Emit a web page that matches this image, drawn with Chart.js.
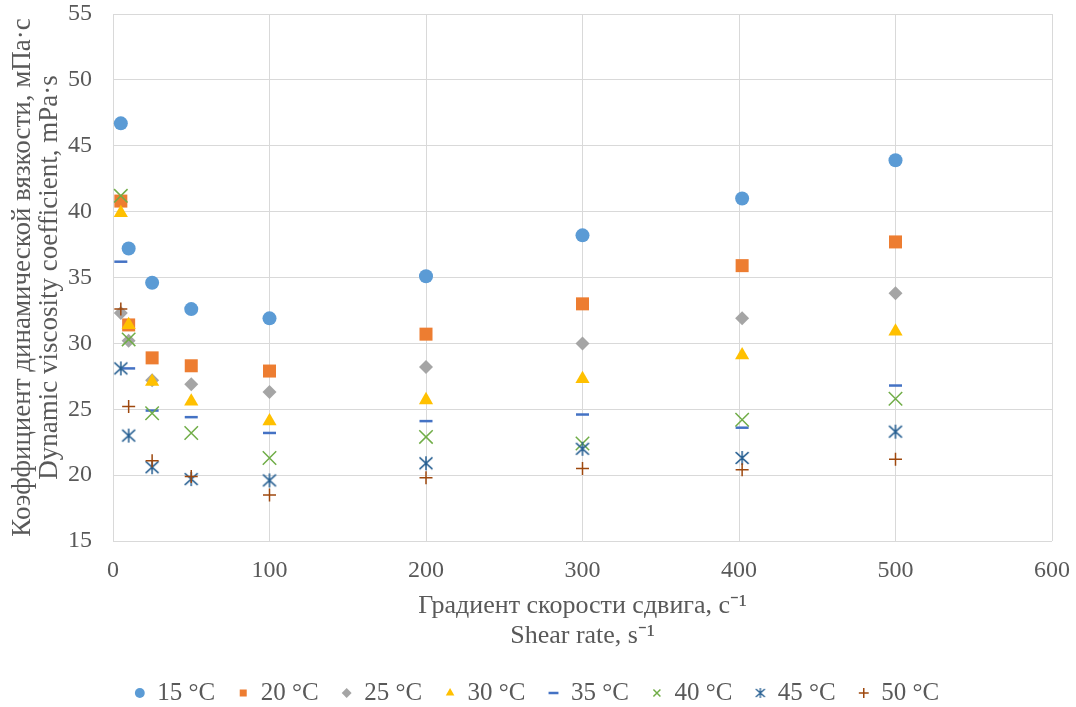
<!DOCTYPE html>
<html><head><meta charset="utf-8">
<script src="https://cdn.jsdelivr.net/npm/chart.js@4"></script>
<style>html,body{margin:0;padding:0;background:#fff}</style>
</head><body>
<canvas id="c" width="1076" height="707"></canvas>
<script>
const shearRates = [5, 10, 25, 50, 100, 200, 300, 402, 500];
const seriesLabels = ['15 °C', '20 °C', '25 °C', '30 °C', '35 °C', '40 °C', '45 °C', '50 °C'];
const visc15 = [46.7, 37.2, 34.6, 32.6, 31.9, 35.1, 38.2, 41.0, 43.9];
const visc20 = [40.8, 31.4, 28.9, 28.3, 27.9, 30.7, 33.0, 35.9, 37.7];
const visc25 = [32.3, 30.2, 27.2, 26.9, 26.3, 28.2, 30.0, 31.9, 33.8];
const visc30 = [39.9, 31.4, 27.1, 25.6, 24.1, 25.7, 27.3, 29.1, 30.9];
const visc35 = [36.2, 28.1, 24.9, 24.4, 23.2, 24.1, 24.6, 23.6, 26.8];
const visc40 = [41.2, 30.3, 24.7, 23.2, 21.3, 22.9, 22.4, 24.2, 25.8];
const visc45 = [28.1, 23.0, 20.6, 19.7, 19.6, 20.9, 22.0, 21.3, 23.3];
const visc50 = [32.6, 25.2, 21.1, 19.9, 18.5, 19.8, 20.5, 20.4, 21.2];
const xTitle = ['Градиент скорости сдвига, с⁻¹', 'Shear rate, s⁻¹'];
const yTitle = ['Коэффициент динамической вязкости, мПа·с', 'Dynamic viscosity coefficient, mPa·s'];

const FONT = "'Liberation Serif', 'Times New Roman', serif";
const TXT = '#595959';

function asterisk(color, size, lw) {
  const c = document.createElement('canvas');
  c.width = size; c.height = size;
  const g = c.getContext('2d');
  const m = size / 2, a = size / 2 - 1.5;
  g.strokeStyle = color; g.lineWidth = lw;
  g.beginPath();
  g.moveTo(m - a, m - a * 0.9); g.lineTo(m + a, m + a * 0.9);
  g.moveTo(m + a, m - a * 0.9); g.lineTo(m - a, m + a * 0.9);
  g.moveTo(m, m - a - 0.5); g.lineTo(m, m + a + 0.5);
  g.stroke();
  return c;
}
const asteriskBig = asterisk('#255E91', 16, 1.5);
const asteriskSmall = asterisk('#255E91', 12, 1.3);

const allValues = [visc15, visc20, visc25, visc30, visc35, visc40, visc45, visc50];
const styles = [
  {pointStyle: 'circle', r: 7, bg: '#5B9BD5', bc: '#5B9BD5', bw: 0},
  {pointStyle: 'rect', r: 9.2, bg: '#ED7D31', bc: '#ED7D31', bw: 0},
  {pointStyle: 'rectRot', r: 7, bg: '#A5A5A5', bc: '#A5A5A5', bw: 0},
  {pointStyle: 'triangle', r: 8.2, bg: '#FFC000', bc: '#FFC000', bw: 0},
  {pointStyle: 'line', r: 6.5, bg: '#4472C4', bc: '#4472C4', bw: 2.5},
  {pointStyle: 'crossRot', r: 9.5, bg: '#70AD47', bc: '#70AD47', bw: 1.5},
  {pointStyle: asteriskBig, r: 8, bg: '#255E91', bc: '#255E91', bw: 1.5},
  {pointStyle: 'cross', r: 6.5, bg: '#9E480E', bc: '#9E480E', bw: 1.5}
];

const datasets = seriesLabels.map((lab, i) => ({
  label: lab,
  data: shearRates.map((x, j) => ({x: x, y: allValues[i][j]})),
  pointStyle: styles[i].pointStyle,
  pointRadius: styles[i].r,
  pointHoverRadius: styles[i].r,
  backgroundColor: styles[i].bg,
  borderColor: styles[i].bc,
  borderWidth: styles[i].bw,
  pointBorderWidth: styles[i].bw,
  showLine: false,
  order: -i
}));

new Chart(document.getElementById('c'), {
  type: 'scatter',
  data: {datasets},
  options: {
    responsive: false,
    animation: false,
    layout: {padding: {top: 14, right: 24, left: 22, bottom: -8.5}},
    plugins: {
      tooltip: {enabled: false},
      legend: {
        position: 'bottom',
        labels: {
          usePointStyle: true,
          boxWidth: 10, boxHeight: 7,
          padding: 23,
          color: TXT,
          font: {family: FONT, size: 25},
          sort: (a, b) => a.datasetIndex - b.datasetIndex,
          generateLabels: chart => {
            const items = Chart.defaults.plugins.legend.labels.generateLabels(chart);
            items.forEach(it => { if (it.pointStyle === asteriskBig) it.pointStyle = asteriskSmall; });
            return items;
          }
        }
      }
    },
    scales: {
      x: {
        type: 'linear', min: 0, max: 600,
        ticks: {stepSize: 100, color: TXT, font: {family: FONT, size: 24}, padding: 15},
        grid: {color: '#d9d9d9', drawTicks: false},
        border: {display: false},
        title: {display: true, text: xTitle, color: TXT, font: {family: FONT, size: 26, lineHeight: 1.15}, padding: {top: 0, bottom: 6.5}},
        afterFit: s => { s.height = 116.5; s.paddingLeft = 0; s.paddingRight = 0; }
      },
      y: {
        type: 'linear', min: 15, max: 55,
        ticks: {stepSize: 5, color: TXT, font: {family: FONT, size: 24}, padding: 21},
        grid: {color: '#d9d9d9', drawTicks: false},
        border: {display: false},
        title: {display: true, text: yTitle, color: TXT, font: {family: FONT, size: 27, lineHeight: 0.98}, padding: {top: -12, bottom: 0}},
        afterFit: s => { s.width = 91; s.paddingTop = 0; s.paddingBottom = 0; }
      }
    }
  }
});
</script>
</body></html>
